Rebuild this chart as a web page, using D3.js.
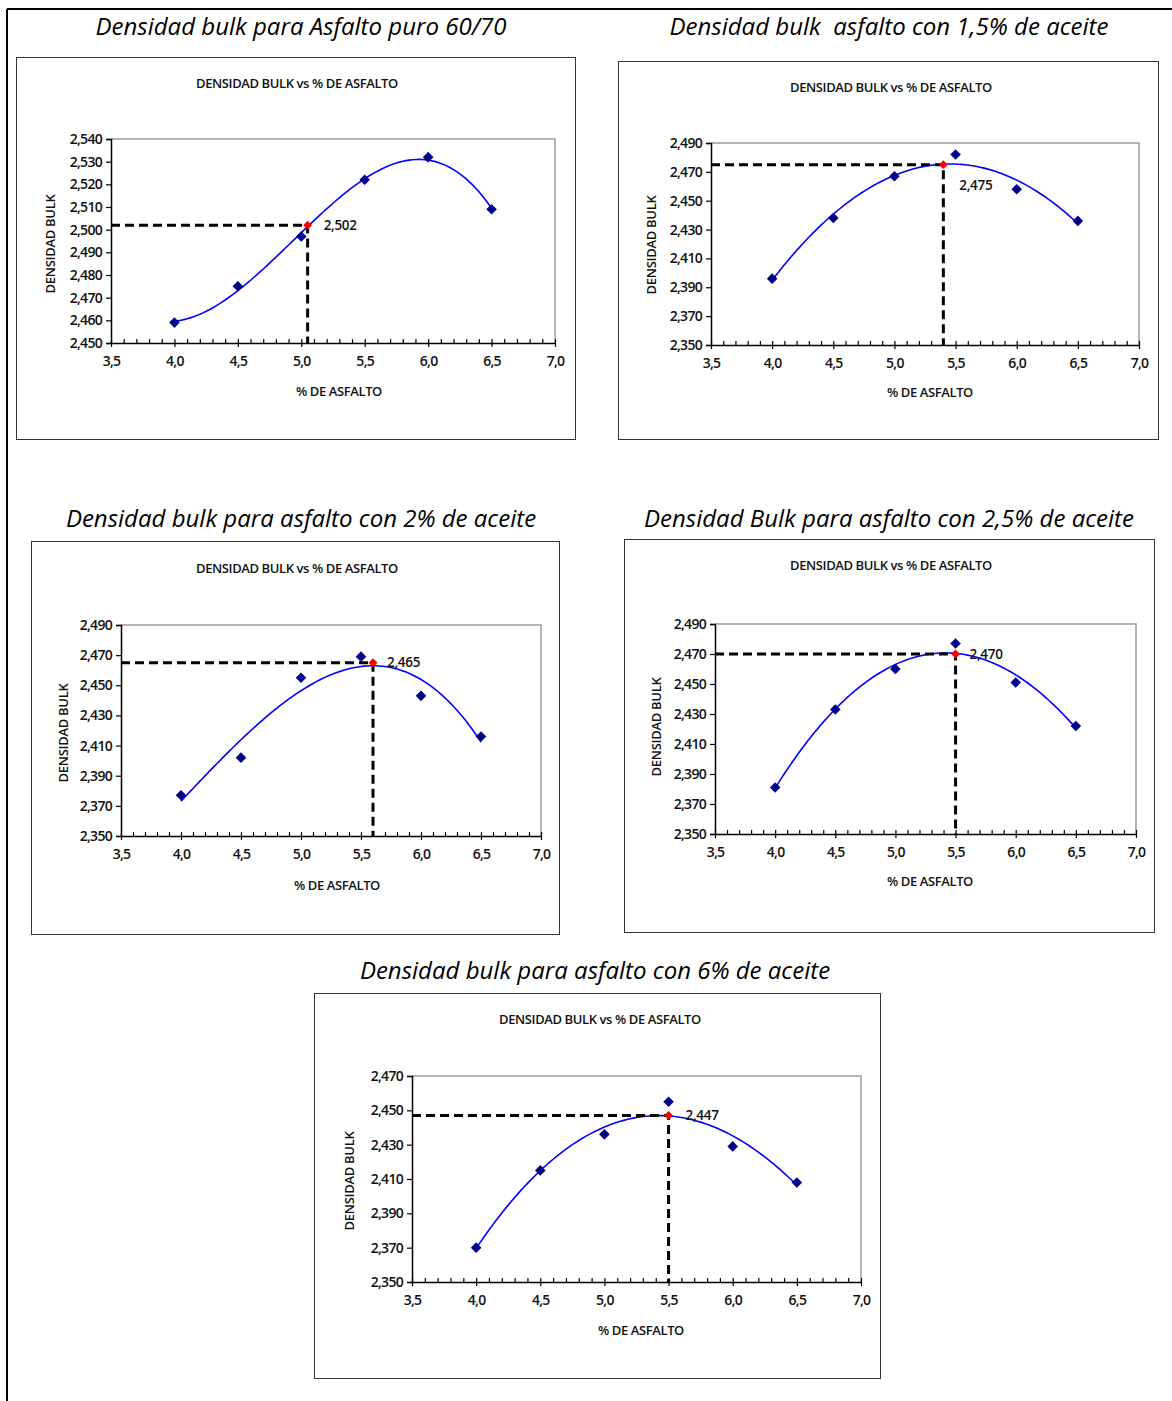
<!DOCTYPE html>
<html>
<head>
<meta charset="utf-8">
<script src="https://cdn.jsdelivr.net/npm/d3@7"></script>
<style>
  html, body { margin: 0; padding: 0; background: #fff; }
  svg { display: block; }
  .heading { font-family: "Open Sans", sans-serif; font-style: italic; font-size: 24px; fill: #000; white-space: pre; }
  .ctitle, .atitle, .tick text { font-family: "Open Sans", sans-serif; font-weight: 600; fill: #111; }
</style>
</head>
<body>
<svg id="page" width="1172" height="1401"></svg>
<script>
// % de asfalto ensayado en cada briqueta
const asphaltPct = [4.0, 4.5, 5.0, 5.5, 6.0, 6.5];

// Densidad bulk medida para cada mezcla
const densPuro = [2.459, 2.475, 2.497, 2.522, 2.532, 2.509];
const dens15   = [2.396, 2.438, 2.467, 2.482, 2.458, 2.436];
const dens20   = [2.377, 2.402, 2.455, 2.469, 2.443, 2.416];
const dens25   = [2.381, 2.433, 2.460, 2.477, 2.451, 2.422];
const dens60   = [2.370, 2.415, 2.436, 2.455, 2.429, 2.408];

// Punto de diseño leído sobre la curva de tendencia
const optPct  = [5.05, 5.4, 5.6, 5.5, 5.5];
const optDens = [2.502, 2.475, 2.465, 2.470, 2.447];

const headings = [
  "Densidad bulk para Asfalto puro 60/70",
  "Densidad bulk  asfalto con 1,5% de aceite",
  "Densidad bulk para asfalto con 2% de aceite",
  "Densidad Bulk para asfalto con 2,5% de aceite",
  "Densidad bulk para asfalto con 6% de aceite"
];

// Escalas del eje de densidad
const yMin  = [2.450, 2.350, 2.350, 2.350, 2.350];
const yMax  = [2.540, 2.490, 2.490, 2.490, 2.470];
const yStep = [0.010, 0.020, 0.020, 0.020, 0.020];

const xTicks = [3.5, 4.0, 4.5, 5.0, 5.5, 6.0, 6.5, 7.0];
const chartTitle = "DENSIDAD BULK vs % DE ASFALTO";
const xTitle = "% DE ASFALTO";
const yTitle = "DENSIDAD BULK";

// Grado del polinomio de tendencia de cada gráfico
const fitDegree = [3, 3, 3, 3, 3];

const series = [densPuro, dens15, dens20, dens25, dens60];

// Posición de cada gráfico en la hoja
const layout = [
  { head: [301, 35], box: [16, 57, 559, 382], plot: [111, 555, 139, 343], ct: [297, 88], xt: [339, 396], yt: [50, 244], lab: [16, 0] },
  { head: [889, 35], box: [618, 61, 540, 378], plot: [711, 1139, 143, 345], ct: [891, 92], xt: [930, 397], yt: [651, 245], lab: [16, 21] },
  { head: [301, 527], box: [31, 541, 528, 393], plot: [121, 541, 625, 836], ct: [297, 573], xt: [337, 890], yt: [63, 733], lab: [14, 0] },
  { head: [889, 527], box: [624, 539, 530, 393], plot: [715, 1136, 624, 834], ct: [891, 570], xt: [930, 886], yt: [656, 727], lab: [14, 0] },
  { head: [595, 979], box: [314, 993, 566, 385], plot: [412, 861, 1076, 1282], ct: [600, 1024], xt: [641, 1335], yt: [349, 1181], lab: [17, 0] }
];

const svg = d3.select("#page");
const fmt = (d, n) => d.toFixed(n).replace(".", ",");

// Marco de la hoja
svg.append("line").attr("x1", 7).attr("y1", 9).attr("x2", 1172).attr("y2", 9)
  .attr("stroke", "#000").attr("stroke-width", 2);
svg.append("line").attr("x1", 7).attr("y1", 9).attr("x2", 7).attr("y2", 1401)
  .attr("stroke", "#000").attr("stroke-width", 2);

// Ajuste polinómico por mínimos cuadrados
function polyFit(xs, ys, deg) {
  const n = deg + 1;
  const A = Array.from({ length: n }, () => new Array(n + 1).fill(0));
  xs.forEach((x, k) => {
    for (let i = 0; i < n; i++) {
      for (let j = 0; j < n; j++) A[i][j] += Math.pow(x, i + j);
      A[i][n] += ys[k] * Math.pow(x, i);
    }
  });
  for (let c = 0; c < n; c++) {
    let p = c;
    for (let r = c + 1; r < n; r++) if (Math.abs(A[r][c]) > Math.abs(A[p][c])) p = r;
    [A[c], A[p]] = [A[p], A[c]];
    for (let r = 0; r < n; r++) {
      if (r === c) continue;
      const f = A[r][c] / A[c][c];
      for (let j = c; j <= n; j++) A[r][j] -= f * A[c][j];
    }
  }
  const coef = A.map((row, i) => row[n] / row[i]);
  return x => coef.reduce((s, c, i) => s + c * Math.pow(x, i), 0);
}

// Rombo: cuadrado girado 45°
const marker = d3.symbol().type(d3.symbolSquare);

series.forEach((ys, i) => {
  const L = layout[i];
  const [pl, pr, pt, pb] = L.plot;

  svg.append("text").attr("class", "heading")
    .attr("x", L.head[0]).attr("y", L.head[1]).attr("text-anchor", "middle")
    .text(headings[i]);

  const g = svg.append("g");
  g.append("rect").attr("x", L.box[0] + 0.5).attr("y", L.box[1] + 0.5)
    .attr("width", L.box[2]).attr("height", L.box[3])
    .attr("fill", "#fff").attr("stroke", "#333").attr("stroke-width", 1);

  g.append("text").attr("class", "ctitle")
    .attr("x", L.ct[0]).attr("y", L.ct[1]).attr("text-anchor", "middle")
    .attr("font-size", 13).attr("letter-spacing", -0.4)
    .text(chartTitle);

  const x = d3.scaleLinear().domain([3.5, 7.0]).range([pl, pr]);
  const y = d3.scaleLinear().domain([yMin[i], yMax[i]]).range([pb, pt]);

  // Borde del área de trazado
  g.append("path")
    .attr("d", `M${pl},${pt}H${pr}V${pb}`)
    .attr("fill", "none").attr("stroke", "#9a9a9a").attr("stroke-width", 1.5);

  const yTickVals = d3.range(Math.round((yMax[i] - yMin[i]) / yStep[i]) + 1).map(k => yMin[i] + k * yStep[i]);
  const yAxis = g.append("g").attr("transform", `translate(${pl},0)`)
    .call(d3.axisLeft(y).tickValues(yTickVals).tickFormat(d => fmt(d, 3)).tickSize(5).tickPadding(4));
  yAxis.select(".domain").attr("stroke", "#000").attr("stroke-width", 1.5);
  yAxis.selectAll(".tick line").attr("stroke", "#000").attr("stroke-width", 1.2);
  yAxis.selectAll(".tick text").attr("font-size", 14).attr("letter-spacing", -0.7);

  // Marcas menores del eje X cada 0,1
  const minor = d3.range(35, 71).map(v => v / 10).filter(v => Math.abs(v * 2 - Math.round(v * 2)) > 1e-6);
  g.append("g").attr("transform", `translate(0,${pb})`)
    .call(d3.axisBottom(x).tickValues(minor).tickFormat("").tickSize(-4))
    .call(a => a.select(".domain").remove())
    .selectAll(".tick line").attr("stroke", "#000").attr("stroke-width", 1.2);

  const xAxis = g.append("g").attr("transform", `translate(0,${pb})`)
    .call(d3.axisBottom(x).tickValues(xTicks).tickFormat(d => fmt(d, 1)).tickSizeInner(4).tickSizeOuter(0).tickPadding(9));
  xAxis.select(".domain").attr("stroke", "#000").attr("stroke-width", 1.5);
  xAxis.selectAll(".tick line").attr("y1", -4).attr("stroke", "#000").attr("stroke-width", 1.2);
  xAxis.selectAll(".tick text").attr("font-size", 14).attr("letter-spacing", -0.7);

  g.append("text").attr("class", "atitle")
    .attr("x", L.xt[0]).attr("y", L.xt[1]).attr("text-anchor", "middle")
    .attr("font-size", 13).attr("letter-spacing", -0.4).text(xTitle);
  g.append("text").attr("class", "atitle")
    .attr("transform", `translate(${L.yt[0] + 5},${L.yt[1]}) rotate(-90)`)
    .attr("text-anchor", "middle")
    .attr("font-size", 13).attr("letter-spacing", -0.3).text(yTitle);

  // Curva de tendencia polinómica
  const f = polyFit(asphaltPct, ys, fitDegree[i]);
  const xs = d3.range(0, 101).map(k => 4.0 + k * 0.025);
  g.append("path")
    .datum(xs)
    .attr("d", d3.line().x(v => x(v)).y(v => y(f(v))))
    .attr("fill", "none").attr("stroke", "#0000ff").attr("stroke-width", 1.6);

  // Puntos medidos
  g.selectAll("path.pt").data(asphaltPct).join("path").attr("class", "pt")
    .attr("d", marker.size(56))
    .attr("transform", (d, k) => `translate(${x(d)},${y(ys[k])}) rotate(45)`)
    .attr("fill", "#00008b");

  // Líneas de lectura del punto de diseño
  const ox = x(optPct[i]), oy = y(optDens[i]);
  g.append("path")
    .attr("d", `M${pl},${oy}H${ox}V${pb}`)
    .attr("fill", "none").attr("stroke", "#000").attr("stroke-width", 3)
    .attr("stroke-dasharray", "9,5");
  g.append("path")
    .attr("d", marker.size(40))
    .attr("transform", `translate(${ox},${oy}) rotate(45)`)
    .attr("fill", "#ff0000");
  g.append("text").attr("class", "ctitle")
    .attr("x", ox + L.lab[0]).attr("y", oy + L.lab[1]).attr("dy", "0.35em")
    .attr("font-size", 13.5).attr("font-weight", 400).attr("letter-spacing", -0.3)
    .text(fmt(optDens[i], 3));
});
</script>
</body>
</html>
